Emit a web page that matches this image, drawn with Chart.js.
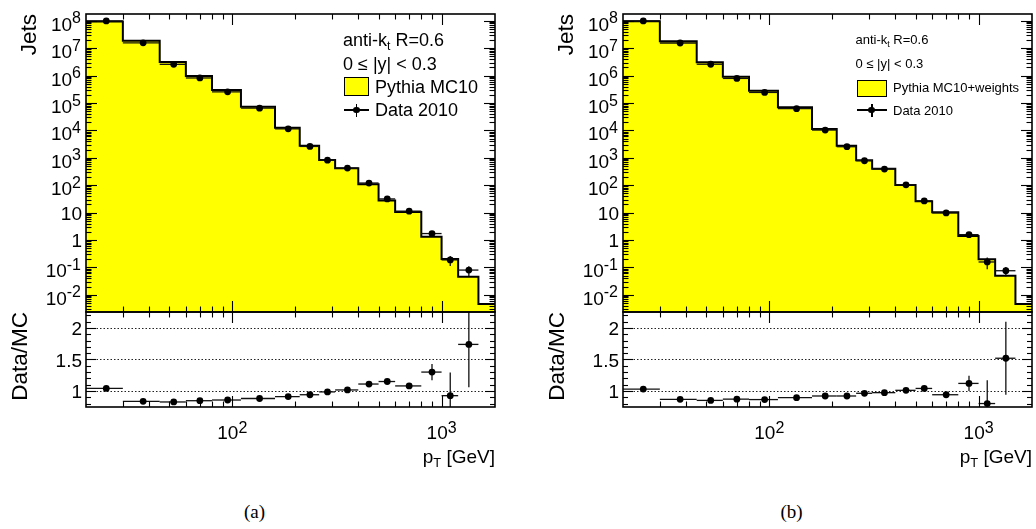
<!DOCTYPE html>
<html>
<head>
<meta charset="utf-8">
<script src="https://cdn.jsdelivr.net/npm/chart.js@4.4.1/dist/chart.umd.min.js"></script>
<style>
  html, body { margin: 0; padding: 0; background: #fff; }
  #wrap { position: relative; width: 1036px; height: 529px; overflow: hidden; font-family: "Liberation Sans", Arial, sans-serif; color: #000; }
  .panel { position: absolute; top: 0; width: 499px; height: 529px; }
  .panel canvas { position: absolute; left: 0; }
  .t { position: absolute; white-space: nowrap; }
  .sub { position: relative; font-size: 0.68em; top: 0.32em; }
  .vt { position: absolute; width: 150px; text-align: right; white-space: nowrap; transform-origin: 0 0; transform: rotate(-90deg); }
  .cap { font-family: "Liberation Serif", "DejaVu Serif", serif; }
</style>
</head>
<body>
<div id="wrap">
  <div class="panel" id="pa" style="left:0px">
    <canvas id="topA" width="499" height="314" style="top:0px"></canvas>
    <canvas id="ratA" width="499" height="170" style="top:300px"></canvas>
  </div>
  <div class="panel" id="pb" style="left:537px">
    <canvas id="topB" width="499" height="314" style="top:0px"></canvas>
    <canvas id="ratB" width="499" height="170" style="top:300px"></canvas>
  </div>
</div>
<script>
// bin edges in pT [GeV]
const binEdges = [20, 30, 45, 60, 80, 110, 160, 210, 260, 310, 400, 500, 600, 800, 1000, 1200, 1500, 1800];

// (a) Pythia MC10
const mcA = [9.5e7, 1.88e7, 3.13e6, 9.67e5, 2.98e5, 7.3e4, 1.26e4, 2.76e3, 832, 414, 108, 27.5, 10.5, 1.32, 0.203, 0.046, 0.0046];
const dataA = [9.9e7, 1.57e7, 2.58e6, 8.2e5, 2.55e5, 6.45e4, 1.14e4, 2.6e3, 820, 421, 120, 31.6, 11.3, 1.72, 0.188, 0.080, null];
const ratioA = [1.04, 0.835, 0.825, 0.845, 0.856, 0.88, 0.91, 0.94, 0.985, 1.016, 1.11, 1.15, 1.08, 1.30, 0.925, 1.74, null];
const ratioErrA = [0.01, 0.01, 0.01, 0.01, 0.01, 0.01, 0.012, 0.015, 0.02, 0.02, 0.03, 0.04, 0.04, 0.13, 0.37, 0.68, null];

// (b) Pythia MC10+weights
const mcB = [9.6e7, 1.79e7, 3.06e6, 9.1e5, 2.81e5, 6.97e4, 1.12e4, 2.76e3, 811, 400, 102, 25.8, 10.3, 1.4, 0.198, 0.0498, 0.0046];
const dataB = [9.9e7, 1.55e7, 2.6e6, 7.9e5, 2.43e5, 6.2e4, 1.03e4, 2.54e3, 781, 389, 103, 26.8, 9.7, 1.57, 0.158, 0.0757, null];
const ratioB = [1.03, 0.867, 0.85, 0.87, 0.863, 0.893, 0.92, 0.92, 0.963, 0.973, 1.01, 1.04, 0.94, 1.12, 0.80, 1.52, null];
const ratioErrB = [0.01, 0.01, 0.01, 0.01, 0.01, 0.01, 0.012, 0.015, 0.02, 0.02, 0.03, 0.04, 0.04, 0.12, 0.37, 0.58, null];

// tick labels
const yTickExps = [-2, -1, 0, 1, 2, 3, 4, 5, 6, 7, 8];
const xTickExps = [2, 3];
const ratioTicks = [1, 1.5, 2];
const ratioLabels = ['1', '1.5', '2'];

const X_MIN = 20, X_MAX = 1800;
const Y_MIN = 2.36e-3, Y_MAX = 1.77e8;
const R_MIN = 0.745, R_MAX = 2.255;
const PANEL_W = 499;
const FONT = '"Liberation Sans", Arial, sans-serif';

function line(ctx, x1, y1, x2, y2) {
  ctx.beginPath(); ctx.moveTo(x1, y1); ctx.lineTo(x2, y2); ctx.stroke();
}

// "10" with raised exponent
function drawPow(ctx, exp, x, base, align, raise) {
  ctx.font = '19px ' + FONT;
  const wb = ctx.measureText('10').width;
  ctx.font = '16px ' + FONT;
  const ws = ctx.measureText(String(exp)).width;
  const total = wb + ws;
  const start = align === 'right' ? x - total : x - total / 2;
  ctx.textAlign = 'left';
  ctx.font = '19px ' + FONT;
  ctx.fillText('10', start, base);
  ctx.font = '16px ' + FONT;
  ctx.fillText(String(exp), start + wb, base - raise);
}

const rootFrame = {
  id: 'rootFrame',
  beforeDatasetsDraw(chart) {
    const o = chart.options.plugins.rootFrame;
    if (o.kind !== 'ratio') return;
    const { ctx, chartArea: a } = chart;
    const ys = chart.scales.y;
    ctx.save();
    ctx.strokeStyle = '#222';
    ctx.lineWidth = 1;
    ctx.setLineDash([1.5, 2]);
    ratioTicks.forEach(v => {
      const py = Math.round(ys.getPixelForValue(v)) + 0.5;
      line(ctx, a.left, py, a.right, py);
    });
    ctx.restore();
  },
  beforeDatasetDraw(chart, args) {
    const ds = chart.data.datasets[args.index];
    if (!ds.errBars) return;
    const { ctx, chartArea: a } = chart;
    const xs = chart.scales.x, ys = chart.scales.y;
    ctx.save();
    ctx.beginPath();
    ctx.rect(a.left, a.top, a.right - a.left, a.bottom - a.top);
    ctx.clip();
    ctx.strokeStyle = '#111';
    ctx.lineWidth = 1.3;
    ds.data.forEach(p => {
      const px = xs.getPixelForValue(p.x), py = ys.getPixelForValue(p.y);
      line(ctx, xs.getPixelForValue(p.xlo), py, xs.getPixelForValue(p.xhi), py);
      const lo = Math.max(p.y - p.dy, ys.min * 0.5);
      line(ctx, px, ys.getPixelForValue(p.y + p.dy), px, ys.getPixelForValue(lo));
    });
    ctx.restore();
  },
  afterDraw(chart) {
    const o = chart.options.plugins.rootFrame;
    const { ctx, chartArea: a } = chart;
    const xs = chart.scales.x, ys = chart.scales.y;
    ctx.save();
    ctx.strokeStyle = '#000';
    ctx.fillStyle = '#000';
    ctx.lineWidth = 1.6;
    ctx.strokeRect(a.left, a.top, a.right - a.left, a.bottom - a.top);
    ctx.lineWidth = 1.1;

    // x ticks, inside, top and bottom edges
    for (let d = 10; d <= 1000; d *= 10) {
      for (let m = 1; m <= 9; m++) {
        const v = m * d;
        if (v <= X_MIN || v >= X_MAX) continue;
        const px = Math.round(xs.getPixelForValue(v)) + 0.5;
        const len = m === 1 ? 11 : 5.5;
        line(ctx, px, a.top, px, a.top + len);
        line(ctx, px, a.bottom, px, a.bottom - len);
      }
    }

    if (o.kind === 'log') {
      for (let e = -3; e <= 8; e++) {
        for (let m = 1; m <= 9; m++) {
          const v = m * Math.pow(10, e);
          if (v <= Y_MIN || v >= Y_MAX) continue;
          const py = Math.round(ys.getPixelForValue(v)) + 0.5;
          const len = m === 1 ? 11 : 5.5;
          line(ctx, a.left, py, a.left + len, py);
          line(ctx, a.right, py, a.right - len, py);
        }
      }
      const rx = a.left - 5;
      yTickExps.forEach(e => {
        const py = ys.getPixelForValue(Math.pow(10, e));
        if (e === 0 || e === 1) {
          ctx.font = '19px ' + FONT;
          ctx.textAlign = 'right';
          ctx.fillText(e === 0 ? '1' : '10', rx + 1, py + 7);
        } else {
          drawPow(ctx, e, rx, py + 10, 'right', 7.5);
        }
      });
    } else {
      for (let k = 8; k <= 22; k++) {
        const v = k / 10;
        if (v <= R_MIN || v >= R_MAX) continue;
        const py = Math.round(ys.getPixelForValue(v)) + 0.5;
        const len = k % 5 === 0 ? 10 : 5;
        line(ctx, a.left, py, a.left + len, py);
        line(ctx, a.right, py, a.right - len, py);
      }
      ctx.font = '19px ' + FONT;
      ctx.textAlign = 'right';
      ratioTicks.forEach((v, i) => {
        ctx.fillText(ratioLabels[i], a.left - 4, ys.getPixelForValue(v) + 7);
      });
      xTickExps.forEach(e => {
        drawPow(ctx, e, xs.getPixelForValue(Math.pow(10, e)), a.bottom + 32, 'center', 6);
      });
    }
    ctx.restore();
  }
};

function baseOptions(kind, pad) {
  return {
    responsive: false,
    animation: false,
    devicePixelRatio: 1,
    events: [],
    layout: { padding: pad, autoPadding: false },
    plugins: { legend: { display: false }, tooltip: { enabled: false }, rootFrame: { kind: kind } },
    scales: {
      x: { type: 'logarithmic', min: X_MIN, max: X_MAX, display: false },
      y: kind === 'log'
        ? { type: 'logarithmic', min: Y_MIN, max: Y_MAX, display: false }
        : { type: 'linear', min: R_MIN, max: R_MAX, display: false }
    }
  };
}

function txt(panel, html, x, base, fs, align, cls) {
  const el = document.createElement('div');
  el.className = 't' + (cls ? ' ' + cls : '');
  el.innerHTML = html;
  el.style.fontSize = fs + 'px';
  el.style.lineHeight = fs + 'px';
  el.style.top = (base - 0.8465 * fs) + 'px';
  if (align === 'right') el.style.right = (PANEL_W - x) + 'px';
  else if (align === 'center') { el.style.left = (x - 100) + 'px'; el.style.width = '200px'; el.style.textAlign = 'center'; }
  else el.style.left = x + 'px';
  panel.appendChild(el);
}

function vtxt(panel, text, baseX, endY, fs) {
  const el = document.createElement('div');
  el.className = 'vt';
  el.textContent = text;
  el.style.fontSize = fs + 'px';
  el.style.lineHeight = fs + 'px';
  el.style.left = (baseX - 0.8465 * fs) + 'px';
  el.style.top = (endY + 150) + 'px';
  panel.appendChild(el);
}

function box(panel, x, y, w, h, css) {
  const el = document.createElement('div');
  el.style.cssText = 'position:absolute;box-sizing:border-box;left:' + x + 'px;top:' + y + 'px;width:' + w + 'px;height:' + h + 'px;' + css;
  panel.appendChild(el);
}

function buildPanel(id, topId, ratId, mc, data, ratio, ratioErr, leg) {
  const panel = document.getElementById(id);

  // step outline: value of each bin from its left edge, closed at the last edge
  const histPts = mc.map((v, i) => ({ x: binEdges[i], y: v }));
  histPts.push({ x: binEdges[binEdges.length - 1], y: mc[mc.length - 1] });

  const dataPts = [], ratioPts = [];
  data.forEach((v, i) => {
    if (v == null) return;
    const lo = binEdges[i], hi = binEdges[i + 1], c = (lo + hi) / 2;
    dataPts.push({ x: c, y: v, xlo: lo, xhi: hi, dy: v * ratioErr[i] / ratio[i] });
    ratioPts.push({ x: c, y: ratio[i], xlo: lo, xhi: hi, dy: ratioErr[i] });
  });

  new Chart(document.getElementById(topId), {
    type: 'line',
    data: {
      datasets: [
        { label: 'Data 2010', type: 'scatter', data: dataPts, order: 0, errBars: true,
          pointRadius: 3.4, pointBackgroundColor: '#000', pointBorderColor: '#000', pointBorderWidth: 0, showLine: false },
        { label: leg.mc, data: histPts, order: 1, stepped: 'before', fill: 'start',
          backgroundColor: '#ffff00', borderColor: '#000', borderWidth: 2, pointRadius: 0 }
      ]
    },
    options: baseOptions('log', { left: 86, right: 4, top: 14, bottom: 2 }),
    plugins: [rootFrame]
  });

  new Chart(document.getElementById(ratId), {
    type: 'scatter',
    data: {
      datasets: [
        { label: 'Data/MC', data: ratioPts, errBars: true,
          pointRadius: 3.4, pointBackgroundColor: '#000', pointBorderColor: '#000', pointBorderWidth: 0 }
      ]
    },
    options: baseOptions('ratio', { left: 86, right: 4, top: 12, bottom: 63 }),
    plugins: [rootFrame]
  });

  // axis titles
  vtxt(panel, 'Jets', 37, 14, 22.5);
  vtxt(panel, 'Data/MC', 28.5, 312, 22.5);
  txt(panel, 'p<span class="sub">T</span> [GeV]', 495, 463, 19, 'right');
  txt(panel, leg.cap, 254.5, 518, 19, 'center', 'cap');

  // legend
  const f = leg.fs;
  txt(panel, 'anti-k<span class="sub">t</span> R=0.6', leg.x, leg.b1, f);
  txt(panel, '0 \u2264 |y| &lt; 0.3', leg.x, leg.b2, f);
  box(panel, leg.bx, leg.by, leg.bw, leg.bh, 'background:#ffff00;border:1.5px solid #000;');
  txt(panel, leg.mc, leg.tx, leg.b3, f);
  box(panel, leg.bx, leg.ly - 0.75, leg.bw, 1.5, 'background:#000;');
  box(panel, leg.bx + leg.bw / 2 - 0.75, leg.ly - 6.5, 1.5, 13, 'background:#000;');
  box(panel, leg.bx + leg.bw / 2 - 3.4, leg.ly - 3.4, 6.8, 6.8, 'background:#000;border-radius:50%;');
  txt(panel, 'Data 2010', leg.tx, leg.b4, f);
}

buildPanel('pa', 'topA', 'ratA', mcA, dataA, ratioA, ratioErrA,
  { mc: 'Pythia MC10', cap: '(a)', fs: 18, x: 343, b1: 46.5, b2: 70, bx: 344, by: 77, bw: 25, bh: 19, tx: 375, b3: 93, ly: 110, b4: 116.5 });
buildPanel('pb', 'topB', 'ratB', mcB, dataB, ratioB, ratioErrB,
  { mc: 'Pythia MC10+weights', cap: '(b)', fs: 13, x: 318.5, b1: 44, b2: 68, bx: 320, by: 80, bw: 29.5, bh: 17, tx: 356, b3: 91.7, ly: 110, b4: 115 });
</script>
</body>
</html>
